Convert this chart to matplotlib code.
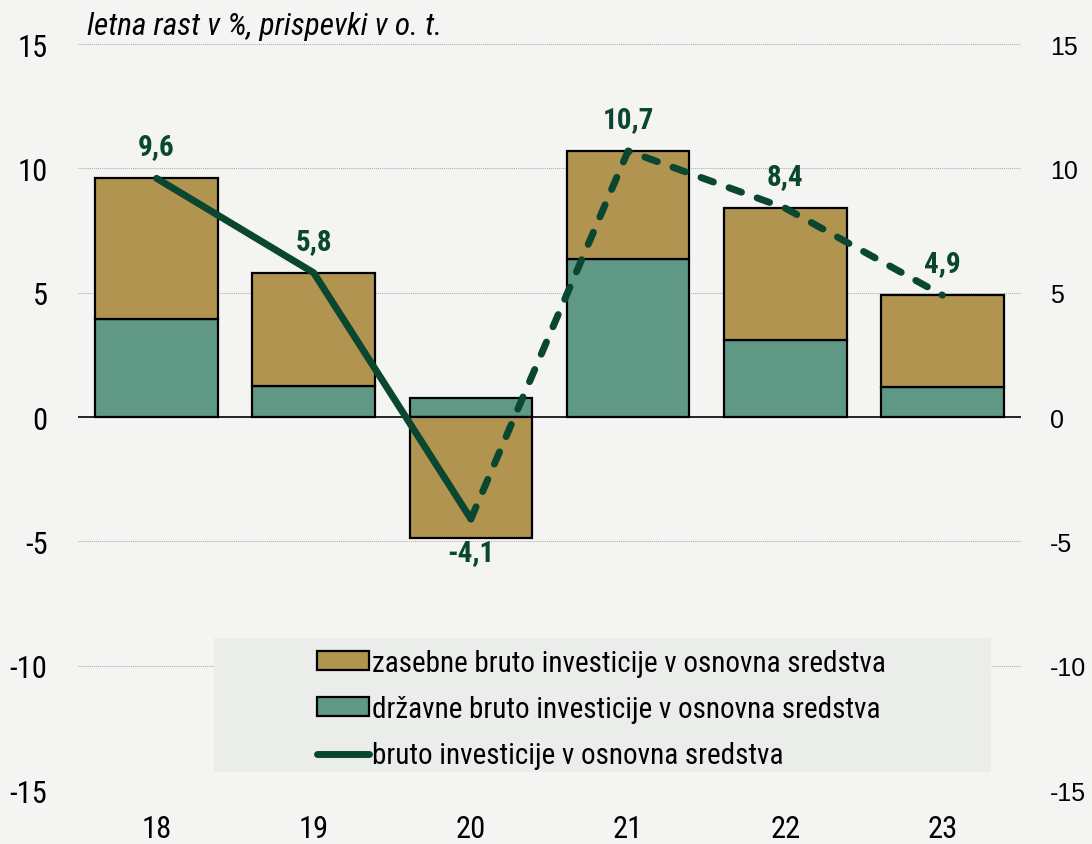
import matplotlib
matplotlib.use('Agg')
import matplotlib.pyplot as plt
from matplotlib.patches import Patch, Rectangle
from matplotlib.lines import Line2D

# data
years = ['18', '19', '20', '21', '22', '23']
state = [3.95, 1.25, 0.75, 6.35, 3.1, 1.2]
private = [5.65, 4.55, -4.85, 4.35, 5.3, 3.7]
total = [9.6, 5.8, -4.1, 10.7, 8.4, 4.9]
yticks = [-15, -10, -5, 0, 5, 10, 15]

c_private = '#b0944f'
c_state = '#5f9985'
c_line = '#0a4630'
bg = '#f4f5f3'
narrow = ['Roboto Condensed', 'Archivo Narrow', 'DejaVu Sans']

fig = plt.figure(figsize=(10.92, 8.45), dpi=100, facecolor=bg)
ax = fig.add_axes([0.0714, 0.0639, 0.8636, 0.8828])
ax.set_facecolor('none')

x = list(range(len(years)))
# stacked bars: state at base, private on top (negative private goes below 0)
ax.bar(x, state, width=0.78, color=c_state, edgecolor='black', linewidth=1.6, zorder=3)
priv_bottom = [s if p > 0 else 0 for s, p in zip(state, private)]
ax.bar(x, private, bottom=priv_bottom, width=0.78, color=c_private,
       edgecolor='black', linewidth=1.6, zorder=3)

# line: solid until 2020, dashed afterwards
ax.plot(x[:3], total[:3], color=c_line, lw=5, solid_capstyle='round',
        solid_joinstyle='round', zorder=4)
ax.plot(x[2:], total[2:], color=c_line, lw=5, dashes=(1.9, 2.4),
        dash_capstyle='round', zorder=4)

for xi, v in zip(x, total):
    off = -24 if v < 0 else 23
    ax.annotate(f'{v:.1f}'.replace('.', ','), (xi, v), xytext=(0, off),
                textcoords='offset points', ha='center', va='center',
                fontsize=21, fontweight='bold', color=c_line, family=narrow, zorder=5)

ax.set_xlim(-0.5, 5.5)
ax.set_ylim(-15, 15)
ax.set_yticks(yticks)
ax.set_yticklabels([str(t) for t in yticks], family=narrow, fontsize=22)
ax.set_xticks(x)
ax.set_xticklabels(years, family=narrow, fontsize=22)
ax.tick_params(length=0)
ax.tick_params(axis='y', pad=22)
ax.tick_params(axis='x', pad=17)
for s in ax.spines.values():
    s.set_visible(False)
for t in yticks:
    if t == 0:
        ax.axhline(0, color='black', lw=1.2, zorder=2)
    else:
        ax.axhline(t, color='#a8a8a8', lw=0.7, ls=(0, (1, 1)), zorder=1)

ax2 = ax.twinx()
ax2.set_ylim(-15, 15)
ax2.set_yticks(yticks)
ax2.set_yticklabels([str(t) for t in yticks], fontsize=18, family='Liberation Sans')
ax2.tick_params(length=0, pad=21)
for s in ax2.spines.values():
    s.set_visible(False)

fig.text(0.08, 0.969, 'letna rast v %, prispevki v o. t.', fontsize=22.5,
         style='italic', family=narrow, va='center')

# legend box
fig.patches.append(Rectangle((214 / 1092, 1 - 773 / 845), (991 - 214) / 1092,
                             (773 - 639) / 845, transform=fig.transFigure,
                             facecolor='#ebedea', edgecolor='none', zorder=5))
handles = [Patch(facecolor=c_private, edgecolor='black', linewidth=1.6),
           Patch(facecolor=c_state, edgecolor='black', linewidth=1.6),
           Line2D([0], [0], color=c_line, lw=5, solid_capstyle='round')]
labels = ['zasebne bruto investicije v osnovna sredstva',
          'državne bruto investicije v osnovna sredstva',
          'bruto investicije v osnovna sredstva']
leg = fig.legend(handles, labels, loc='center left',
                 bbox_to_anchor=(291 / 1092, 1 - 710 / 845), frameon=False,
                 prop={'family': narrow, 'size': 21}, handlelength=1.78,
                 handleheight=0.62, handletextpad=0.1, labelspacing=0.63)
leg.set_zorder(6)

fig.savefig('out.png', dpi=100, facecolor=bg)
